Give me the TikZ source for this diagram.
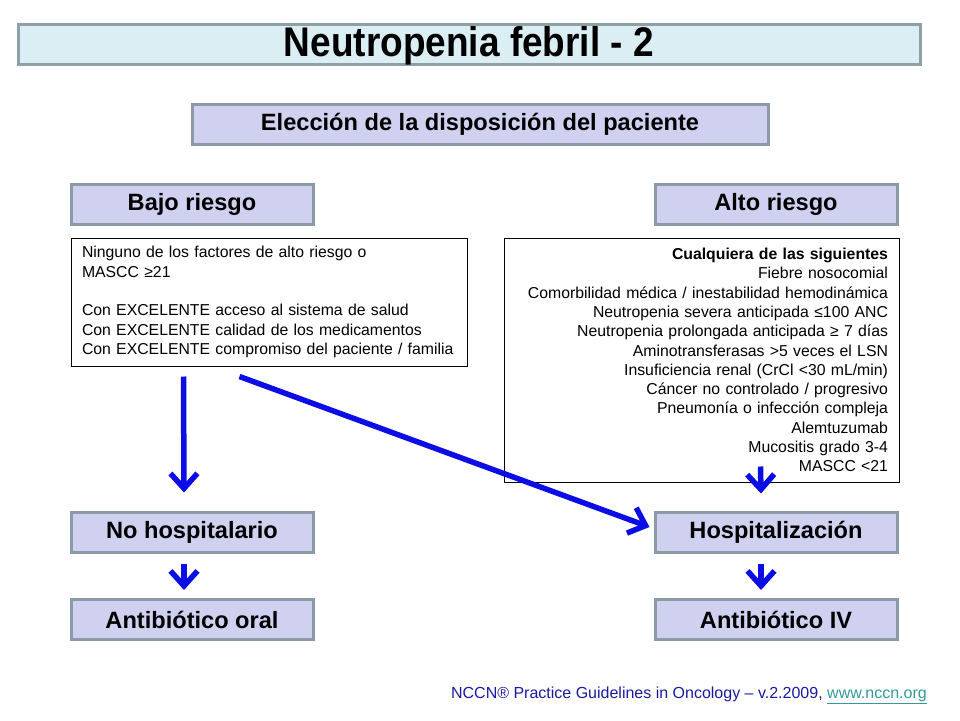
\documentclass[tikz,border=0pt]{standalone}
\usepackage{fontspec}
\setmainfont{Liberation Sans}
\usetikzlibrary{arrows.meta,calc}
\definecolor{titlefill}{RGB}{219,238,243}
\definecolor{titleborder}{RGB}{140,160,166}
\definecolor{boxfill}{RGB}{208,208,240}
\definecolor{boxborder}{RGB}{138,154,166}
\definecolor{arrowblue}{RGB}{12,12,228}
\definecolor{footblue}{RGB}{26,26,160}
\definecolor{linkteal}{RGB}{51,153,153}
\tikzset{
  titlebox/.style={draw=titleborder, line width=3pt, fill=titlefill, minimum width=902pt, minimum height=40pt, inner sep=0pt, text height=30pt, text depth=6pt, font=\bfseries\fontsize{37}{40}\selectfont},
  hdrbox/.style={draw=boxborder, line width=3pt, fill=boxfill, minimum height=40pt, inner sep=0pt, font=\bfseries\fontsize{23.6}{27}\selectfont},
  smallbox/.style={hdrbox, minimum width=242pt},
  listbox/.style={draw=black, line width=1pt, inner sep=0pt, font=\fontsize{15.8}{19.3}\selectfont},
  bluearrow/.style={draw=arrowblue, line width=5.5pt, -{Straight Barb[length=15pt,width=27pt,line width=5.5pt]}}
}
\begin{document}
\begin{tikzpicture}[x=1pt,y=-1pt]
\useasboundingbox (0,0) rectangle (960,720);
\node[titlebox] (title) at (469,44) {\scalebox{1}[1.12]{Neutropenia febril - 2}};
\node[hdrbox, minimum width=576pt] (eleccion) at (480,124.5) {Elección de la disposición del paciente};
\node[smallbox] (bajo) at (192,204) {Bajo riesgo};
\node[smallbox] (alto) at (776,204) {Alto riesgo};
\node[listbox, minimum width=396pt, minimum height=128pt, text width=374pt, align=left] (lowtext) at (269,302) {Ninguno de los factores de alto riesgo o\\MASCC ≥21\\[19.3pt]Con EXCELENTE acceso al sistema de salud\\Con EXCELENTE calidad de los medicamentos\\Con EXCELENTE compromiso del paciente / familia};
\node[listbox, minimum width=395pt, minimum height=244pt, text width=373pt, align=right] (hightext) at (701.5,360) {\textbf{Cualquiera de las siguientes}\\Fiebre nosocomial\\Comorbilidad médica / inestabilidad hemodinámica\\Neutropenia severa anticipada ≤100 ANC\\Neutropenia prolongada anticipada ≥ 7 días\\Aminotransferasas >5 veces el LSN\\Insuficiencia renal (CrCl <30 mL/min)\\Cáncer no controlado / progresivo\\Pneumonía o infección compleja\\Alemtuzumab\\Mucositis grado 3-4\\MASCC <21};
\node[smallbox] (nohosp) at (192,532) {No hospitalario};
\node[smallbox] (hosp) at (776,532) {Hospitalización};
\node[smallbox] (abo) at (192,619.5) {Antibiótico oral};
\node[smallbox] (abiv) at (776,619.5) {Antibiótico IV};
\node[anchor=east, inner sep=0pt, font=\fontsize{16}{19}\selectfont] (foot) at (927,695) {\textcolor{footblue}{NCCN® Practice Guidelines in Oncology – v.2.2009, }\textcolor{linkteal}{\underline{www.nccn.org}}};
\coordinate (s1) at ($(lowtext.south west)+(113,10)$);
\coordinate (s2) at ($(lowtext.south west)+(169,10)$);
\coordinate (s3) at ($(hightext.south)+(59,-16)$);
\draw[bluearrow] (s1) -- ($(nohosp.north)+(-8,-18)$);
\draw[bluearrow] (s2) -- ($(hosp.west)+(-4,-5)$);
\draw[bluearrow] (s3) -- ($(hosp.north)+(-15,-17)$);
\draw[bluearrow] ($(nohosp.south)+(-8,10)$) -- ($(abo.north)+(-8,-8)$);
\draw[bluearrow] ($(hosp.south)+(-15,10)$) -- ($(abiv.north)+(-15,-8)$);
\end{tikzpicture}
\end{document}
